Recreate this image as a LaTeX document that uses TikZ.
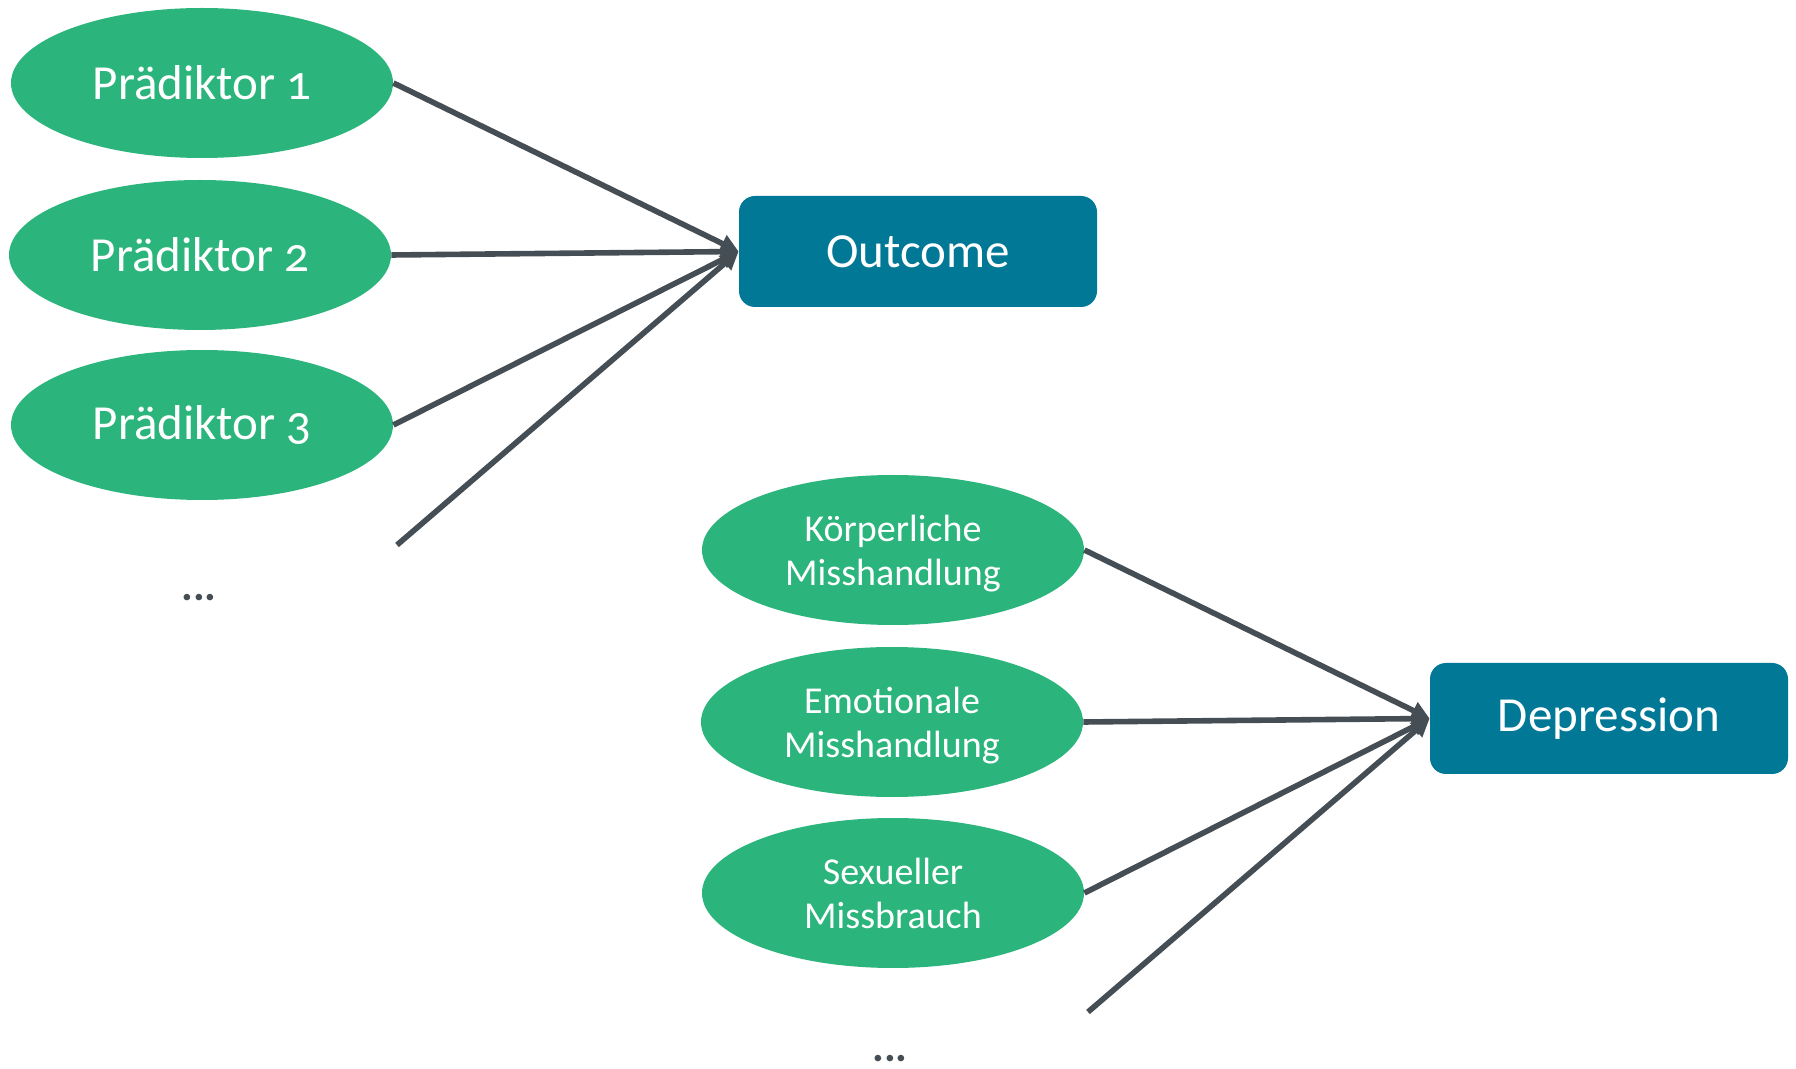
\documentclass[tikz,border=0pt]{standalone}
\usepackage{fontspec}
\setmainfont{Carlito}[Numbers=OldStyle]
\usetikzlibrary{shapes.geometric,arrows.meta}
\definecolor{predgreen}{HTML}{2BB47C}
\definecolor{outblue}{HTML}{007896}
\definecolor{arrowgray}{HTML}{454E54}
\begin{document}
\begin{tikzpicture}[x=0.5pt,y=-0.5pt,
  pred/.style={ellipse, fill=predgreen, text=white, inner sep=0pt,
    minimum width=191pt, minimum height=75pt, font=\fontsize{24.5}{28}\selectfont},
  predsmall/.style={pred, align=center, text depth=0pt, font=\fontsize{19}{22}\selectfont},
  outbox/.style={rectangle, rounded corners=8pt, fill=outblue, text=white,
    inner sep=0pt, minimum width=179pt, minimum height=55.5pt,
    font=\fontsize{24.5}{28}\selectfont},
  link/.style={draw=arrowgray, line width=2.8pt,
    -{Triangle[length=9pt,width=9pt]}},
  dots/.style={text=arrowgray, inner sep=0pt, anchor=base,
    font=\bfseries\fontsize{22}{24}\selectfont}]
\useasboundingbox (0,0) rectangle (1796,1069);

% upper, generic model
\node[pred] (p1) at (202,83) {Prädiktor 1};
\node[pred] (p2) at (200,255) {Prädiktor 2};
\node[pred] (p3) at (202,425) {Prädiktor 3};
\node[dots] (pdots) at (199,601) {...};
\coordinate (pfree) at (397,545);
\node[outbox] (out) at (918,251.5) {Outcome};

\draw[link] (p1.east) -- (out.west);
\draw[link] (p2.east) -- (out.west);
\draw[link] (p3.east) -- (out.west);
\draw[link] (pfree) -- (out.west);

% lower, concrete model
\node[predsmall] (k) at (893,550) {Körperliche\\Misshandlung};
\node[predsmall] (e) at (892,722) {Emotionale\\Misshandlung};
\node[predsmall] (s) at (893,893) {Sexueller\\Missbrauch};
\node[dots] (ddots) at (890,1061) {...};
\coordinate (dfree) at (1088,1012);
\node[outbox] (dep) at (1609,718.5) {Depression};

\draw[link] (k.east) -- (dep.west);
\draw[link] (e.east) -- (dep.west);
\draw[link] (s.east) -- (dep.west);
\draw[link] (dfree) -- (dep.west);
\end{tikzpicture}
\end{document}
